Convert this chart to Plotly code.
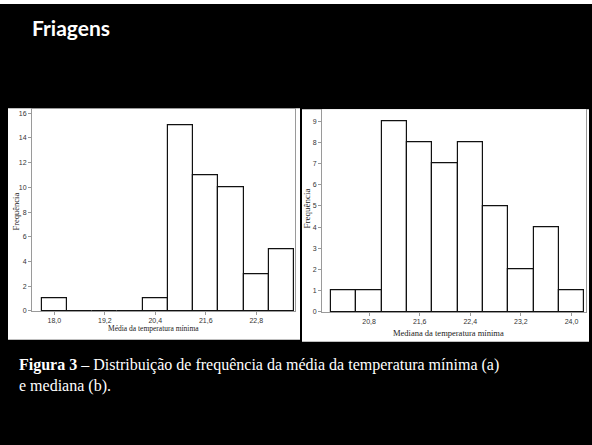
import plotly.graph_objects as go

# ---- data ----
left_centers = [18.0, 18.6, 19.2, 19.8, 20.4, 21.0, 21.6, 22.2, 22.8, 23.4]
left_counts = [1, 0, 0, 0, 1, 15, 11, 10, 3, 5]
left_tick_vals = [18.0, 19.2, 20.4, 21.6, 22.8]
left_tick_text = ["18,0", "19,2", "20,4", "21,6", "22,8"]
left_y_ticks = [0, 2, 4, 6, 8, 10, 12, 14, 16]

right_centers = [20.4, 20.8, 21.2, 21.6, 22.0, 22.4, 22.8, 23.2, 23.6, 24.0]
right_counts = [1, 1, 9, 8, 7, 8, 5, 2, 4, 1]
right_tick_vals = [20.8, 21.6, 22.4, 23.2, 24.0]
right_tick_text = ["20,8", "21,6", "22,4", "23,2", "24,0"]
right_y_ticks = [0, 1, 2, 3, 4, 5, 6, 7, 8, 9]

title_text = "Friagens"
caption_text = ("<b>Figura 3</b> – Distribuição de frequência da média da temperatura mínima (a)"
                "<br>e mediana (b).")
left_xlabel = "Média da temperatura mínima"
right_xlabel = "Mediana da temperatura mínima"
ylabel = "Frequência"

W, H = 592, 445


def px(x):
    return x / W


def py(y):
    return 1 - y / H


fig = go.Figure()
bar_line = dict(color="#111111", width=1.2)
fig.add_trace(go.Bar(x=left_centers, y=left_counts, width=0.6,
                     marker=dict(color="white", line=bar_line),
                     xaxis="x", yaxis="y", showlegend=False))
fig.add_trace(go.Bar(x=right_centers, y=right_counts, width=0.4,
                     marker=dict(color="white", line=bar_line),
                     xaxis="x2", yaxis="y2", showlegend=False))

tick_font = dict(family="Liberation Sans Narrow, Liberation Sans, Arial", size=7, color="#333333")
axis_common = dict(showgrid=False, zeroline=False, showline=True, linecolor="#9a9a9a",
                   linewidth=1, ticks="outside", ticklen=3, tickcolor="#9a9a9a",
                   tickwidth=1, tickfont=tick_font, fixedrange=True)

fig.update_layout(
    width=W, height=H,
    margin=dict(l=0, r=0, t=0, b=0),
    paper_bgcolor="black",
    plot_bgcolor="white",
    bargap=0,
    xaxis=dict(domain=[px(32), px(295)], range=[17.47, 23.72], anchor="y",
               tickvals=left_tick_vals, ticktext=left_tick_text, mirror=True, **axis_common),
    yaxis=dict(domain=[py(313), py(110)], range=[0, 16.32], anchor="x",
               tickvals=left_y_ticks, mirror=True, **axis_common),
    xaxis2=dict(domain=[px(322), px(586)], range=[20.055, 24.23], anchor="y2",
                tickvals=right_tick_vals, ticktext=right_tick_text, **axis_common),
    yaxis2=dict(domain=[py(314), py(110)], range=[0, 9.56], anchor="x2",
                tickvals=right_y_ticks, mirror=True, **axis_common),
    shapes=[
        dict(type="rect", xref="paper", yref="paper", x0=px(8), x1=px(300), y0=py(342), y1=py(109),
             fillcolor="white", line=dict(width=0), layer="below"),
        dict(type="rect", xref="paper", yref="paper", x0=px(302), x1=px(589), y0=py(344), y1=py(110),
             fillcolor="white", line=dict(width=0), layer="below"),
        dict(type="rect", xref="paper", yref="paper", x0=0, x1=1, y0=py(4), y1=1,
             fillcolor="white", line=dict(width=0), layer="below"),
    ],
)

serif = "Liberation Serif, Times New Roman, serif"
annotations = [
    dict(text="<b>" + title_text + "</b>", x=px(30), y=py(42), xanchor="left", yanchor="bottom",
         font=dict(family="Lato, Carlito, Calibri, sans-serif", size=21, color="white")),
    dict(text=caption_text, x=px(17), y=py(356), xanchor="left", yanchor="top", align="left",
         font=dict(family=serif, size=16, color="white")),
    dict(text=left_xlabel, x=px(153), y=py(331), xanchor="center", yanchor="middle",
         font=dict(family=serif, size=7.5, color="#222222")),
    dict(text=right_xlabel, x=px(448), y=py(335), xanchor="center", yanchor="middle",
         font=dict(family=serif, size=8.5, color="#222222")),
    dict(text=ylabel, x=px(16), y=py(213), xanchor="center", yanchor="middle", textangle=-90,
         font=dict(family=serif, size=8.5, color="#222222")),
    dict(text=ylabel, x=px(307), y=py(210), xanchor="center", yanchor="middle", textangle=-90,
         font=dict(family=serif, size=9, color="#222222")),
]
for a in annotations:
    a.update(xref="paper", yref="paper", showarrow=False)
fig.update_layout(annotations=annotations)

fig.write_html("out.html")
